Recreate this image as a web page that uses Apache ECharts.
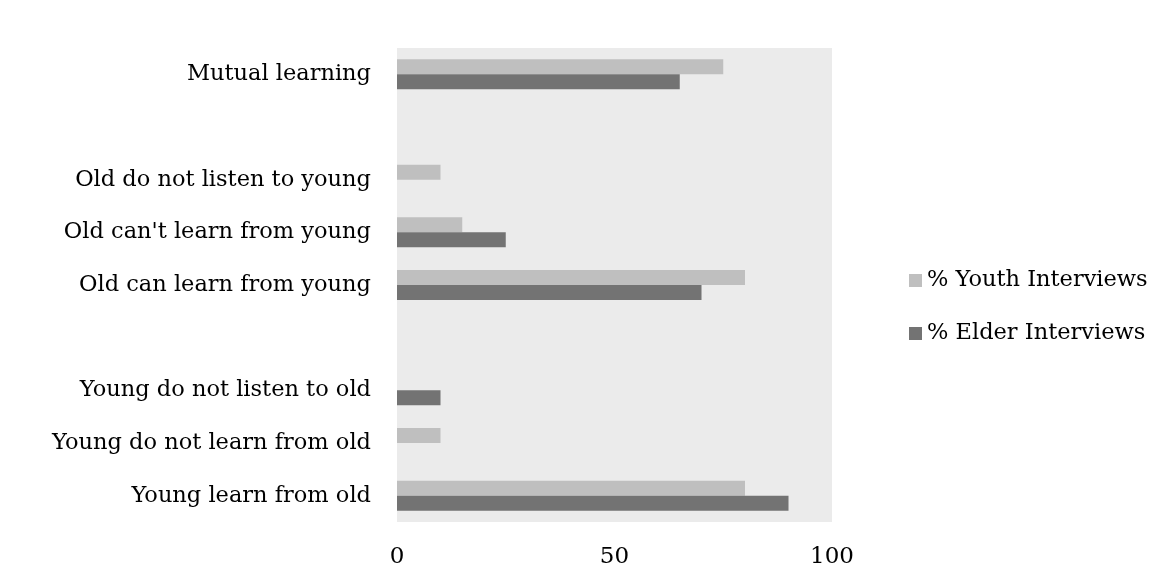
<!DOCTYPE html>
<html><head><meta charset="utf-8">
<script src="https://cdn.jsdelivr.net/npm/echarts@6/dist/echarts.min.js"></script>
<style>html,body{margin:0;padding:0;background:#fff}#c{width:1157px;height:569px}</style>
</head><body><div id="c"></div>
<script>
const categories = ["Young learn from old","Young do not learn from old","Young do not listen to old","","Old can learn from young","Old can't learn from young","Old do not listen to young","","Mutual learning"];
const youth = [80, 10, 0, null, 80, 15, 10, null, 75];
const elder = [90, 0, 10, null, 70, 25, 0, null, 65];
const xTicks = [0, 50, 100];
const seriesNames = ["% Youth Interviews", "% Elder Interviews"];
const FONT = "DejaVu Serif";
const chart = echarts.init(document.getElementById('c'));
chart.setOption({
  animation: false,
  backgroundColor: '#fff',
  grid: {left: 397, right: 325, top: 48, bottom: 47, backgroundColor: '#EBEBEB', show: true, borderWidth: 0},
  legend: {
    orient: 'vertical', left: 904, top: 264, itemGap: 30,
    itemWidth: 13, itemHeight: 13, icon: 'rect',
    textStyle: {fontFamily: FONT, fontSize: 22.5, color: '#000', padding: [3, 0, 0, 0]},
    data: seriesNames
  },
  xAxis: {
    type: 'value', min: xTicks[0], max: xTicks[xTicks.length-1], interval: 50,
    splitLine: {show: false}, axisLine: {show: false}, axisTick: {show: false},
    axisLabel: {fontFamily: FONT, fontSize: 23, color: '#000', margin: 24}
  },
  yAxis: {
    type: 'category', data: categories,
    axisLine: {show: false}, axisTick: {show: false},
    axisLabel: {fontFamily: FONT, fontSize: 22.5, color: '#000', margin: 26, lineHeight: 30, padding: [6, 0, 0, 0]}
  },
  series: [
    {name: seriesNames[0], type: 'bar', data: youth, barWidth: 15, barGap: '0%', itemStyle: {color: '#BFBFBF'}},
    {name: seriesNames[1], type: 'bar', data: elder, barWidth: 15, barGap: '0%', itemStyle: {color: '#737373'}}
  ]
});
</script></body></html>
